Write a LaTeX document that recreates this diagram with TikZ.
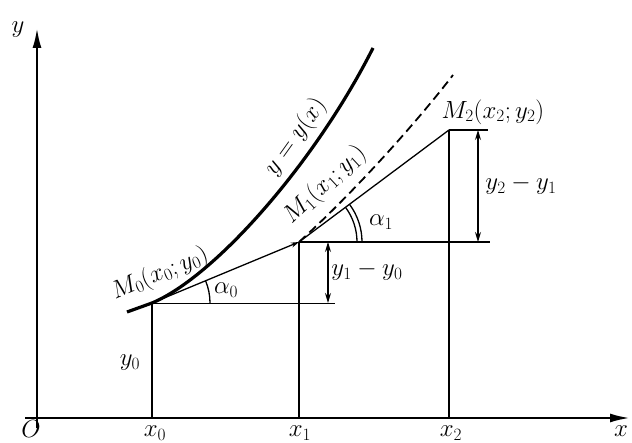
\documentclass[tikz,border=0pt]{standalone}
\usepackage{tikz}
\usetikzlibrary{arrows.meta, calc}
\begin{document}
\begin{tikzpicture}[
    x=1pt, y=1pt,
    axis/.style={line width=2.4pt, -{Latex[length=20pt, width=9pt]}},
    curve/.style={line width=3.2pt},
    thinline/.style={line width=1.3pt},
    dim/.style={line width=1.1pt, {Stealth[length=10pt, width=6pt]}-{Stealth[length=10pt, width=6pt]}},
    lbl/.style={font=\fontsize{25}{29}\selectfont, inner sep=1pt},
  ]
  \useasboundingbox (0,0) rectangle (632,443);

  % axes
  \coordinate (O) at (37,25);
  \coordinate (xbeg) at (25,25);
  \coordinate (xend) at (630,25);
  \coordinate (ybeg) at (37,15);
  \coordinate (yend) at (37,415);
  \draw[axis] (xbeg) -- (xend);
  \draw[axis] (ybeg) -- (yend);

  % points
  \coordinate (M0) at (152,140);
  \coordinate (M1) at (299,201);
  \coordinate (M2) at (449,313);
  \coordinate (C0) at (127,131);
  \coordinate (C1) at (373,395);
  \coordinate (D1) at (453,368);

  % curve y=y(x) and the dashed one through M1
  \draw[curve] (C0) .. controls (140,135) .. (M0)
    .. controls (215,166.5) and (315,280) .. (C1)
    node[lbl, pos=0.7, sloped, above=5pt] (lcurve) {$y=y(x)$};
  \draw[line width=1.8pt, dash pattern=on 9pt off 5pt] (M1) .. controls (349,246) and (413,316) .. (D1);

  % broken line
  \draw[thinline, -{Stealth[length=8pt, width=5pt]}] (M0) -- (M1);
  \draw[thinline] (M1) -- (M2);

  % verticals and horizontals
  \draw[thinline] (M0) -- (M0 |- O);
  \draw[thinline] (M1) -- (M1 |- O);
  \draw[thinline] (M2) -- (M2 |- O);
  \coordinate (h0) at (335,140);
  \coordinate (h1) at (490,201);
  \coordinate (h2) at (488,313);
  \draw[line width=0.9pt] (M0) -- (h0);
  \draw[thinline] (M1) -- (h1);
  \draw[thinline] (M2) -- (h2);

  % increments
  \coordinate (d0a) at (328,140);
  \coordinate (d0b) at (328,201);
  \coordinate (d1a) at (478,201);
  \coordinate (d1b) at (478,313);
  \draw[dim] (d0a) -- (d0b);
  \draw[dim] (d1a) -- (d1b);

  % angles
  \draw[thinline] ($(M0)+(58,0)$) arc[start angle=0, end angle=22.5, radius=58];
  \draw[thinline] ($(M1)+(58,0)$) arc[start angle=0, end angle=36.7, radius=58];
  \draw[thinline] ($(M1)+(63,0)$) arc[start angle=0, end angle=36.7, radius=63];

  % labels
  \node[lbl] (lO) at (31,14) {$O$};
  \node[lbl] (lx) at (621,12) {$x$};
  \node[lbl] (ly) at (18,413) {$y$};
  \node[lbl] (lx0) at (155,10) {$x_0$};
  \node[lbl] (lx1) at (300,10) {$x_1$};
  \node[lbl] (lx2) at (451,10) {$x_2$};
  \node[lbl] (ly0) at (130,80) {$y_0$};
  \node[lbl] (la0) at (226,153) {$\alpha_0$};
  \node[lbl] (la1) at (381,221) {$\alpha_1$};
  \node[lbl] (ldy0) at (367,172) {$y_1-y_0$};
  \node[lbl] (ldy1) at (521,258) {$y_2-y_1$};
  \node[lbl] (lM0) at (160,169) [rotate=23] {$M_0(x_0;y_0)$};
  \node[lbl] (lM1) at (325,258) [rotate=43] {$M_1(x_1;y_1)$};
  \node[lbl] (lM2) at (493,331) {$M_2(x_2;y_2)$};
\end{tikzpicture}
\end{document}
